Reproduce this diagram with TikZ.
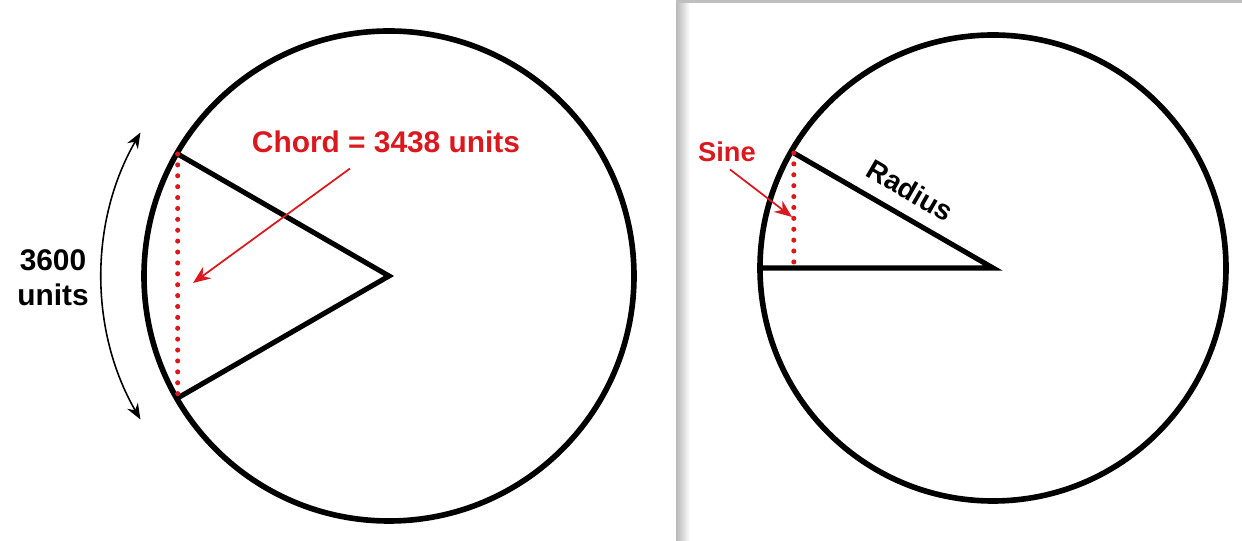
\documentclass[tikz,border=0pt]{standalone}
\usepackage{fontspec}
\setmainfont{Liberation Sans}
\usetikzlibrary{arrows.meta,calc}
\definecolor{chordred}{RGB}{218,24,30}

\begin{document}
\begin{tikzpicture}[x=0.02cm,y=0.02cm,
    rim/.style={line width=3.2pt},
    spoke/.style={line width=2.9pt,line join=miter},
    reddots/.style={chordred,line width=2.9pt,line cap=round,dash pattern=on 0pt off 6.2pt},
    pointer/.style={chordred,line width=1pt,-{Stealth[length=10pt,width=8pt]}},
    biglbl/.style={font=\fontsize{17}{20}\selectfont\bfseries},
    smalllbl/.style={font=\fontsize{15.5}{18}\selectfont\bfseries}]
\useasboundingbox (0,0) rectangle (1242,541);
% frame of the right panel
\shade[left color=black!28,right color=white] (676,0) rectangle (690,541);
\fill[black!25] (676,538) rectangle (1242,541);
% chord picture
\coordinate (O1) at (389,265);
\draw[rim] (O1) circle (245);
\coordinate (A) at ($(O1)+(150:244)$);
\coordinate (B) at ($(O1)+(210:244)$);
\draw[spoke] (A) -- (O1) -- (B);
\draw[reddots] (A) -- (B);
\coordinate (arcT) at ($(O1)+(150:287)$);
\draw[line width=0.9pt,{Stealth[length=9pt,width=7pt]}-{Stealth[length=9pt,width=7pt]}]
    (arcT) arc (150:210:287);
\node[biglbl,align=center] (span) at (53,263) {3600\\units};
\node[biglbl,chordred,anchor=base] (chord) at (386,388) {Chord = 3438 units};
\coordinate (chordtip) at (193,258);
\draw[pointer] ([shift={(-36,-9)}]chord.south) -- (chordtip);
% sine picture
\coordinate (O2) at (993,273);
\draw[rim] (O2) circle (233);
\coordinate (C) at ($(O2)+(150:230)$);
\coordinate (D) at ($(O2)+(180:231)$);
\coordinate (E) at (C |- O2);
\draw[spoke] (C) -- node[pos=0.52,sloped,above=4pt,font=\fontsize{16}{19}\selectfont\bfseries] (radius) {Radius} (O2) -- (D);
\draw[reddots] (C) -- (E);
\node[smalllbl,chordred,anchor=base] (sine) at (727,379) {Sine};
\coordinate (sinetip) at (792,324);
\draw[pointer] ([shift={(3,-1)}]sine.south) -- (sinetip);
\end{tikzpicture}
\end{document}
